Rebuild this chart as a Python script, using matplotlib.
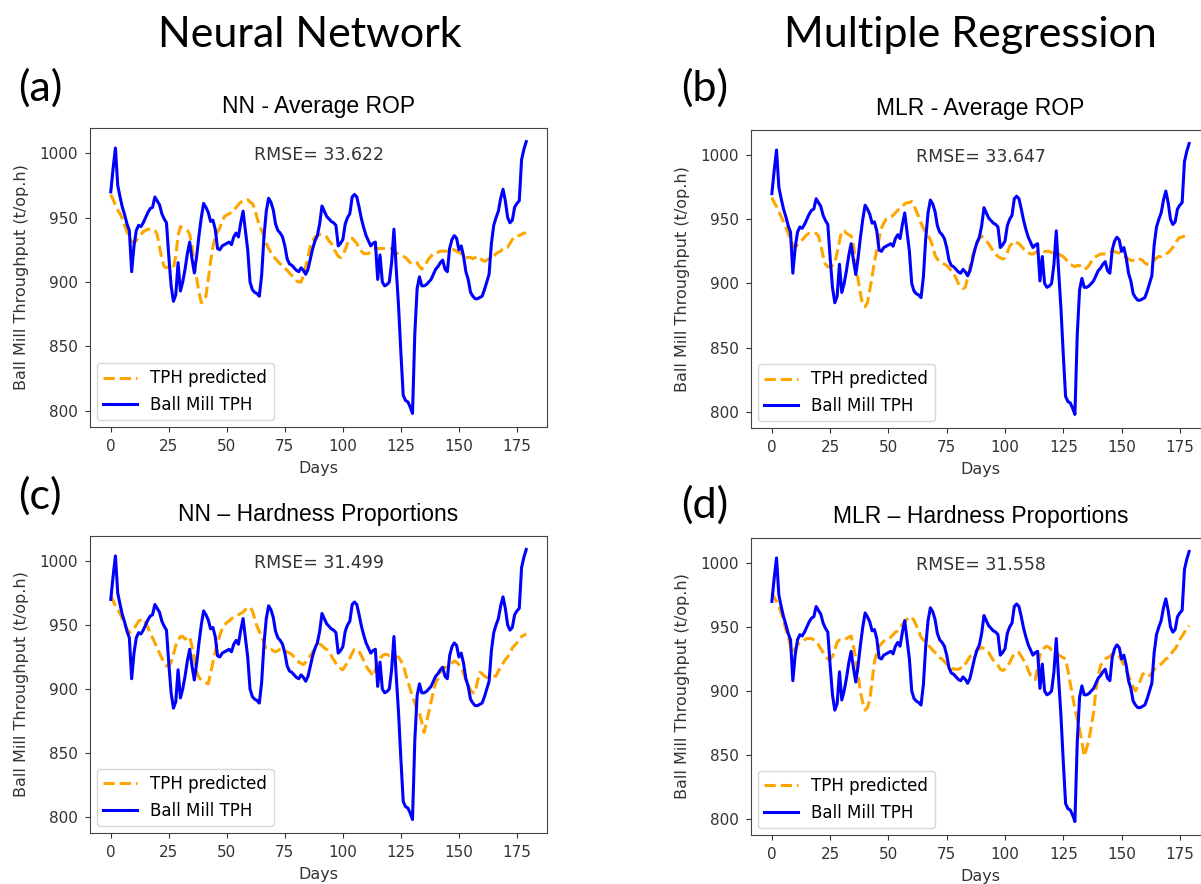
import numpy as np
import matplotlib.pyplot as plt

# ---- data ----
days = np.arange(180)

ball_mill_tph = [
    970, 988, 1004, 975, 966, 958, 952, 945, 940, 908,
    928, 940, 944, 943, 946, 950, 954, 957, 958, 966,
    963, 960, 953, 949, 946, 920, 897, 885, 890, 915,
    893, 900, 910, 922, 931, 918, 907, 920, 936, 950,
    961, 958, 954, 947, 948, 941, 926, 925, 928, 929,
    930, 931, 929, 935, 938, 935, 946, 955, 940, 925,
    900, 894, 892, 891, 889, 905, 935, 955, 965, 962,
    956, 945, 940, 938, 935, 928, 918, 914, 913, 911,
    909, 908, 911, 909, 906, 910, 918, 926, 932, 936,
    945, 959, 955, 951, 949, 947, 946, 944, 928, 930,
    933, 945, 950, 953, 966, 968, 966, 958, 949, 942,
    936, 932, 928, 930, 931, 902, 921, 900, 897, 898,
    900, 915, 941, 910, 881, 845, 812, 808, 807, 803,
    798, 860, 895, 904, 897, 897, 898, 900, 902, 906,
    910, 912, 915, 917, 910, 908, 926, 933, 936, 934,
    925, 928, 920, 908, 902, 892, 889, 887, 887, 888,
    889, 894, 900, 906, 930, 944, 950, 955, 965, 972,
    963, 950, 946, 948, 958, 961, 963, 995, 1003, 1009,
]

pred_nn_rop = [
    968, 964, 960, 956, 953, 949, 944, 939, 935, 931,
    931, 932, 935, 937, 939, 940, 941, 941, 941, 940,
    937, 927, 918, 912, 911, 912, 912, 911, 920, 936,
    943, 942, 941, 940, 937, 928, 912, 903, 892, 884,
    885, 889, 902, 916, 927, 935, 939, 942, 947, 951,
    952, 953, 954, 955, 958, 960, 962, 963, 963, 964,
    962, 961, 957, 950, 944, 940, 936, 930, 926, 923,
    920, 918, 916, 914, 913, 911, 909, 907, 905, 903,
    901, 900, 900, 905, 912, 920, 928, 932, 935, 936,
    937, 937, 936, 935, 932, 930, 926, 923, 920, 919,
    921, 925, 930, 933, 934, 932, 930, 926, 924, 922,
    922, 922, 924, 925, 926, 926, 926, 926, 926, 926,
    926, 926, 925, 922, 922, 921, 920, 919, 917, 915,
    914, 914, 915, 912, 910, 912, 915, 918, 920, 922,
    923, 923, 924, 924, 924, 924, 925, 925, 925, 924,
    923, 922, 920, 919, 919, 919, 918, 919, 920, 919,
    917, 916, 917, 918, 919, 920, 922, 923, 924, 926,
    927, 927, 930, 933, 935, 936, 936, 937, 938, 938,
]

pred_mlr_rop = [
    967, 963, 960, 956, 952, 948, 944, 939, 934, 930,
    928, 930, 932, 934, 936, 938, 939, 939, 939, 939,
    937, 930, 921, 915, 913, 913, 914, 916, 924, 933,
    941, 941, 939, 938, 937, 930, 915, 903, 892, 883,
    882, 885, 895, 905, 917, 926, 935, 943, 947, 950,
    951, 952, 953, 955, 957, 959, 960, 962, 963, 963,
    964, 961, 956, 952, 947, 943, 940, 937, 934, 929,
    922, 919, 917, 916, 915, 914, 912, 910, 908, 904,
    900, 898, 896, 897, 905, 913, 921, 926, 931, 935,
    937, 935, 933, 931, 928, 925, 923, 921, 920, 919,
    920, 924, 929, 931, 933, 932, 931, 929, 927, 926,
    924, 923, 923, 924, 925, 925, 925, 925, 925, 925,
    924, 924, 923, 923, 922, 921, 919, 917, 915, 914,
    913, 914, 914, 912, 911, 912, 914, 917, 920, 921,
    922, 923, 923, 923, 923, 924, 925, 925, 924, 924,
    923, 921, 920, 919, 918, 918, 918, 918, 919, 918,
    916, 915, 915, 916, 918, 920, 921, 921, 922, 923,
    924, 926, 928, 931, 934, 936, 936, 937, 938, 938,
]

pred_nn_hard = [
    973, 969, 965, 962, 959, 955, 951, 947, 944, 945,
    947, 950, 953, 954, 955, 952, 948, 944, 940, 936,
    932, 928, 924, 920, 918, 918, 921, 927, 934, 938,
    941, 941, 939, 940, 941, 933, 924, 913, 909, 907,
    906, 905, 904, 912, 921, 929, 936, 942, 947, 950,
    952, 953, 955, 956, 957, 958, 959, 960, 962, 963,
    964, 961, 955, 949, 945, 941, 936, 931, 931, 931,
    930, 929, 930, 931, 931, 930, 929, 928, 927, 925,
    923, 921, 920, 919, 921, 924, 926, 929, 931, 933,
    935, 934, 932, 931, 928, 926, 923, 920, 918, 916,
    915, 918, 921, 924, 928, 931, 931, 929, 926, 922,
    918, 915, 913, 910, 915, 922, 924, 926, 927, 927,
    926, 926, 925, 925, 925, 922, 919, 912, 906, 900,
    894, 889, 884, 881, 874, 866, 874, 882, 890, 898,
    905, 908, 913, 916, 917, 917, 918, 920, 922, 921,
    919, 917, 912, 907, 903, 899, 897, 897, 906, 913,
    912, 910, 909, 909, 909, 910, 910, 914, 917, 920,
    923, 925, 928, 932, 934, 936, 939, 941, 942, 943,
]

pred_mlr_hard = [
    977, 973, 970, 966, 961, 955, 948, 942, 935, 930,
    933, 936, 938, 939, 940, 941, 941, 941, 940, 939,
    936, 933, 930, 927, 925, 925, 927, 932, 938, 940,
    940, 940, 941, 942, 943, 935, 925, 912, 899, 891,
    885, 887, 893, 908, 923, 930, 935, 937, 939, 940,
    941, 942, 944, 946, 947, 949, 952, 954, 956, 957,
    958, 955, 951, 947, 942, 940, 938, 936, 934, 932,
    930, 928, 926, 925, 923, 921, 920, 918, 917, 917,
    917, 918, 918, 921, 924, 927, 929, 930, 932, 933,
    934, 933, 931, 930, 927, 924, 922, 920, 917, 916,
    917, 919, 922, 926, 929, 930, 930, 927, 924, 921,
    916, 912, 910, 909, 918, 928, 931, 934, 935, 934,
    932, 931, 930, 928, 927, 926, 925, 916, 906, 896,
    886, 878, 870, 860, 849, 855, 862, 872, 883, 900,
    912, 920, 922, 925, 926, 927, 929, 929, 929, 927,
    924, 920, 916, 912, 907, 903, 900, 904, 908, 913,
    914, 912, 912, 914, 917, 918, 920, 921, 923, 925,
    926, 928, 931, 933, 936, 940, 943, 946, 949, 951,
]

panels = [
    ("(a)", "NN - Average ROP", "RMSE= 33.622", pred_nn_rop),
    ("(b)", "MLR - Average ROP", "RMSE= 33.647", pred_mlr_rop),
    ("(c)", "NN \u2013 Hardness Proportions", "RMSE= 31.499", pred_nn_hard),
    ("(d)", "MLR \u2013 Hardness Proportions", "RMSE= 31.558", pred_mlr_hard),
]

# axes boxes in pixels: left, top, right, bottom
W, H = 1201, 884
boxes = [
    (90, 128, 547, 427),
    (751, 130, 1210, 428),
    (90, 536, 547, 833),
    (751, 538, 1210, 835),
]
letter_pos = [(40, 88), (705, 88), (40, 496), (705, 505)]

fig = plt.figure(figsize=(W / 100, H / 100), dpi=100)

fig.text(310 / W, 1 - 35 / H, "Neural Network", ha="center", va="center",
         fontsize=31, family="Lato")
fig.text(970 / W, 1 - 35 / H, "Multiple Regression", ha="center", va="center",
         fontsize=31, family="Lato")

for (letter, title, rmse, pred), (l, t, r, b), (lx, ly) in zip(panels, boxes, letter_pos):
    ax = fig.add_axes([l / W, 1 - b / H, (r - l) / W, (b - t) / H])
    ax.plot(days, pred, color="orange", linestyle="--", linewidth=2.2, label="TPH predicted")
    ax.plot(days, ball_mill_tph, color="blue", linewidth=2.2, label="Ball Mill TPH")
    ax.set_xticks([0, 25, 50, 75, 100, 125, 150, 175])
    ax.set_yticks([800, 850, 900, 950, 1000])
    ax.tick_params(labelsize=11, colors="#333333", pad=5)
    for s in ax.spines.values():
        s.set_color("#444444")
    ax.set_xlabel("Days", fontsize=11.5, color="#333333", labelpad=5)
    ax.set_ylabel("Ball Mill Throughput (t/op.h)", fontsize=11.5, color="#333333", labelpad=8)
    ax.set_title(title, fontsize=16.5, pad=11, family="Liberation Sans")
    ax.text(0.5, 0.91, rmse, transform=ax.transAxes, ha="center", va="center",
            fontsize=12.5, color="#333333")
    ax.legend(loc="lower left", fontsize=12, handlelength=2.0, borderaxespad=0.4)
    fig.text(lx / W, 1 - ly / H, letter, ha="center", va="center",
             fontsize=31, family="Lato")

fig.savefig("out.png", dpi=100)
